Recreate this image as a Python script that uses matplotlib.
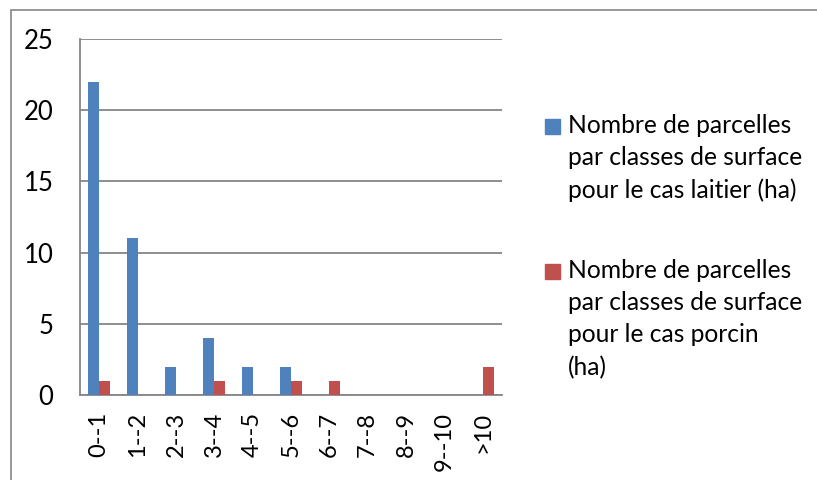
import matplotlib
matplotlib.use("Agg")
import matplotlib.pyplot as plt
from matplotlib.patches import Rectangle
import numpy as np

plt.rcParams['font.family'] = ['Lato', 'DejaVu Sans']

# Data
classes = ['0--1', '1--2', '2--3', '3--4', '4--5', '5--6', '6--7', '7--8', '8--9', '9--10', '>10']
laitier = [22, 11, 2, 4, 2, 2, 0, 0, 0, 0, 0]
porcin = [1, 0, 0, 1, 0, 1, 1, 0, 0, 0, 2]
labels = ['Nombre de parcelles\npar classes de surface\npour le cas laitier (ha)',
          'Nombre de parcelles\npar classes de surface\npour le cas porcin\n(ha)']
colors = ['#4F81BD', '#C0504D']
grid_col = '#868686'

W, H = 817, 480
fig = plt.figure(figsize=(W / 100, H / 100), dpi=100)

# outer chart frame (cropped on right and bottom)
fig.patches.append(Rectangle((11 / W, -0.1), 1.2, 1 - 10 / H + 0.1, transform=fig.transFigure,
                             fill=False, edgecolor=grid_col, linewidth=1.2))

ax = fig.add_axes([80 / W, 1 - 395 / H, (502 - 80) / W, (395 - 39) / H])

x = np.arange(len(classes)) + 0.5
bw = 1 / 3.5
ax.bar(x - bw / 2, laitier, bw, color=colors[0], zorder=3)
ax.bar(x + bw / 2, porcin, bw, color=colors[1], zorder=3)

ax.set_xlim(0, len(classes))
ax.set_ylim(0, 25)
ax.set_yticks(range(0, 26, 5))
ax.set_xticks(x)
ax.set_xticklabels(classes, rotation=90, fontsize=17)
ax.tick_params(axis='y', labelsize=18.5, length=0, pad=19)
ax.tick_params(axis='x', length=0, pad=12)
ax.yaxis.grid(True, color=grid_col, linewidth=1.3, zorder=0)
for s in ['top', 'right']:
    ax.spines[s].set_visible(False)
ax.spines['left'].set_color(grid_col)
ax.spines['bottom'].set_color(grid_col)
ax.spines['left'].set_linewidth(1.3)
ax.spines['bottom'].set_linewidth(1.3)

# legend drawn by hand so the square sits on the first line
for lab, col, ytop in zip(labels, colors, [119, 264]):
    fig.patches.append(Rectangle((545 / W, 1 - (ytop + 15) / H), 15 / W, 15 / H,
                                 transform=fig.transFigure, color=col))
    fig.text(568 / W, 1 - (ytop - 5) / H, lab, fontsize=17.7, va='top', ha='left',
             linespacing=1.48, color='black')

fig.savefig('out.png', dpi=100)
